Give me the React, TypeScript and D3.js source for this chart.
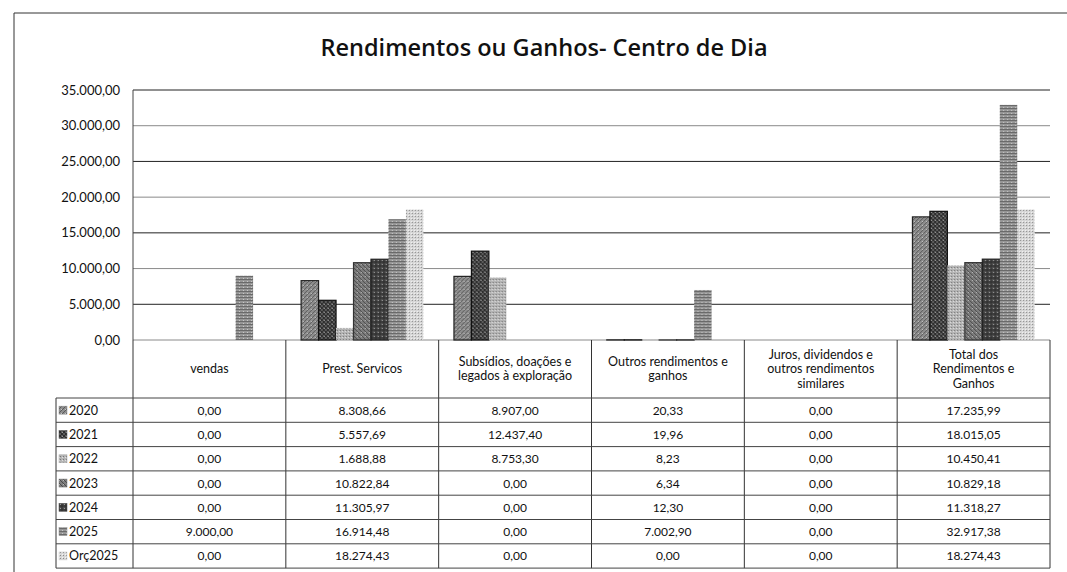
import React from "react";
import * as d3 from "d3";

const categories = [
  "vendas",
  "Prest. Servicos",
  "Subsídios, doações e legados à exploração",
  "Outros rendimentos e ganhos",
  "Juros, dividendos e outros rendimentos similares",
  "Total dos Rendimentos e Ganhos",
];
const categoryLines = [
  ["vendas"],
  ["Prest. Servicos"],
  ["Subsídios, doações e", "legados à exploração"],
  ["Outros rendimentos e", "ganhos"],
  ["Juros, dividendos e", "outros rendimentos", "similares"],
  ["Total dos", "Rendimentos e", "Ganhos"],
];
const seriesNames = ["2020", "2021", "2022", "2023", "2024", "2025", "Orç2025"];
const v2020 = [0, 8308.66, 8907.0, 20.33, 0, 17235.99];
const v2021 = [0, 5557.69, 12437.4, 19.96, 0, 18015.05];
const v2022 = [0, 1688.88, 8753.3, 8.23, 0, 10450.41];
const v2023 = [0, 10822.84, 0, 6.34, 0, 10829.18];
const v2024 = [0, 11305.97, 0, 12.3, 0, 11318.27];
const v2025 = [9000.0, 16914.48, 0, 7002.9, 0, 32917.38];
const vOrc2025 = [0, 18274.43, 0, 0, 0, 18274.43];
const seriesValues = [v2020, v2021, v2022, v2023, v2024, v2025, vOrc2025];
const yTicks = [0, 5000, 10000, 15000, 20000, 25000, 30000, 35000];

const fmt = (v: number) => {
  const s = v.toFixed(2);
  const [i, d] = s.split(".");
  return i.replace(/\B(?=(\d{3})+(?!\d))/g, ".") + "," + d;
};

const FONT = "Lato, 'Open Sans', sans-serif";

export default function App() {
  const W = 1067, H = 572;
  const plotL = 133, plotR = 1050, plotT = 90, plotB = 340;
  const rowH = 24.3;
  const headerB = 398;
  const legendL = 56;

  const x0 = d3.scaleBand<string>().domain(categories).range([plotL, plotR]).padding(0);
  const bw = x0.bandwidth();
  const x1 = d3.scaleBand<string>().domain(seriesNames).range([bw * 0.1, bw * 0.9]).padding(0);
  const y = d3.scaleLinear().domain([0, 35000]).range([plotB, plotT]);

  const fills = ["url(#p0)", "url(#p1)", "url(#p2)", "url(#p3)", "url(#p4)", "url(#p5)", "url(#p6)"];
  const strokes = ["#222", "#111", "none", "#333", "#222", "none", "none"];
  const swatch = ["#8a8a8a", "#555", "#aaa", "#7a7a7a", "#4a4a4a", "#8c8c8c", "#cfcfcf"];

  const tableBottom = headerB + rowH * seriesNames.length;

  return (
    <svg width={W} height={H} style={{ position: "absolute", left: 0, top: 0, background: "#fff" }}>
      <defs>
        <pattern id="p0" width="4" height="4" patternUnits="userSpaceOnUse">
          <rect width="4" height="4" fill="#8e8e8e" />
          <path d="M0,4 L4,0" stroke="#5a5a5a" strokeWidth="1" />
          <rect x="1" y="1" width="1" height="1" fill="#c8c8c8" />
        </pattern>
        <pattern id="p1" width="4" height="4" patternUnits="userSpaceOnUse">
          <rect width="4" height="4" fill="#5a5a5a" />
          <path d="M0,0 L4,4 M0,4 L4,0" stroke="#2e2e2e" strokeWidth="1" />
          <rect x="2" y="0" width="1" height="1" fill="#9a9a9a" />
        </pattern>
        <pattern id="p2" width="3" height="3" patternUnits="userSpaceOnUse">
          <rect width="3" height="3" fill="#b4b4b4" />
          <rect x="0" y="0" width="1" height="1" fill="#777" />
          <rect x="2" y="1" width="1" height="1" fill="#e0e0e0" />
        </pattern>
        <pattern id="p3" width="4" height="4" patternUnits="userSpaceOnUse">
          <rect width="4" height="4" fill="#7e7e7e" />
          <path d="M0,0 L4,4" stroke="#4a4a4a" strokeWidth="1" />
          <rect x="3" y="0" width="1" height="1" fill="#bbb" />
        </pattern>
        <pattern id="p4" width="4" height="4" patternUnits="userSpaceOnUse">
          <rect width="4" height="4" fill="#4f4f4f" />
          <path d="M0,2 L4,2 M2,0 L2,4" stroke="#2a2a2a" strokeWidth="1" />
          <rect x="0" y="0" width="1" height="1" fill="#9a9a9a" />
        </pattern>
        <pattern id="p5" width="4" height="3" patternUnits="userSpaceOnUse">
          <rect width="4" height="3" fill="#969696" />
          <path d="M0,0.5 L4,0.5" stroke="#6a6a6a" strokeWidth="1" />
          <rect x="2" y="2" width="1" height="1" fill="#c8c8c8" />
        </pattern>
        <pattern id="p6" width="3" height="3" patternUnits="userSpaceOnUse">
          <rect width="3" height="3" fill="#d6d6d6" />
          <rect x="0" y="0" width="1" height="1" fill="#8a8a8a" />
          <rect x="2" y="2" width="1" height="1" fill="#f4f4f4" />
        </pattern>
      </defs>

      {/* outer chart border */}
      <line x1={14} y1={13} x2={W} y2={13} stroke="#333" strokeWidth={1} />
      <line x1={14} y1={13} x2={14} y2={H} stroke="#333" strokeWidth={1} />

      {/* title */}
      <text x={544} y={56} textAnchor="middle" fontFamily="'Open Sans', sans-serif" fontWeight={600} fontSize={23.5} fill="#111">
        Rendimentos ou Ganhos- Centro de Dia
      </text>

      {/* gridlines */}
      {yTicks.map((t, i) => (
        <line key={t} x1={plotL} x2={plotR} y1={y(t)} y2={y(t)} stroke={i % 2 === 0 ? "#8a8a8a" : "#222"} strokeWidth={1} />
      ))}
      {/* y axis */}
      <line x1={plotL} x2={plotL} y1={plotT} y2={plotB} stroke="#444" />
      {yTicks.map((t) => (
        <text key={"l" + t} x={120} y={y(t) + 4.5} textAnchor="end" fontFamily={FONT} fontSize={13} fill="#111">
          {fmt(t)}
        </text>
      ))}

      {/* bars */}
      {categories.map((c, ci) => (
        <g key={c} transform={`translate(${x0(c)},0)`}>
          {seriesNames.map((s, si) => {
            const v = seriesValues[si][ci];
            if (v <= 0) return null;
            return (
              <rect
                key={s}
                x={x1(s)}
                y={y(v)}
                width={x1.bandwidth()}
                height={plotB - y(v)}
                fill={fills[si]}
                stroke={strokes[si]}
                strokeWidth={strokes[si] === "none" ? 0 : 1.2}
              />
            );
          })}
        </g>
      ))}

      {/* table grid */}
      {categories.map((c) => (
        <line key={"v" + c} x1={x0(c)!} x2={x0(c)!} y1={plotB} y2={tableBottom} stroke="#333" />
      ))}
      <line x1={plotR} x2={plotR} y1={plotB} y2={tableBottom} stroke="#333" />
      <line x1={legendL} x2={legendL} y1={headerB} y2={tableBottom} stroke="#333" />
      {seriesNames.map((s, i) => (
        <line key={"h" + s} x1={legendL} x2={plotR} y1={headerB + rowH * i} y2={headerB + rowH * i} stroke="#444" />
      ))}
      <line x1={legendL} x2={plotR} y1={tableBottom} y2={tableBottom} stroke="#444" />

      {/* header text */}
      {categories.map((c, ci) => {
        const lines = categoryLines[ci];
        const cx = x0(c)! + bw / 2;
        const lh = 14.5;
        const startY = 369 - ((lines.length - 1) * lh) / 2;
        return (
          <text key={"t" + c} textAnchor="middle" fontFamily={FONT} fontSize={12.5} fill="#111">
            {lines.map((l, li) => (
              <tspan key={li} x={cx} y={startY + li * lh + 4}>
                {l}
              </tspan>
            ))}
          </text>
        );
      })}

      {/* rows */}
      {seriesNames.map((s, si) => {
        const cy = headerB + rowH * si + rowH / 2;
        return (
          <g key={"r" + s}>
            <rect x={59} y={cy - 4} width={8} height={8} fill={fills[si]} stroke={swatch[si]} strokeWidth={0.5} />
            <text x={69} y={cy + 4.5} fontFamily={FONT} fontSize={12.5} fill="#111">
              {s}
            </text>
            {categories.map((c, ci) => (
              <text key={c} x={x0(c)! + bw / 2} y={cy + 4.5} textAnchor="middle" fontFamily={FONT} fontSize={12} fill="#111">
                {fmt(seriesValues[si][ci])}
              </text>
            ))}
          </g>
        );
      })}
    </svg>
  );
}
